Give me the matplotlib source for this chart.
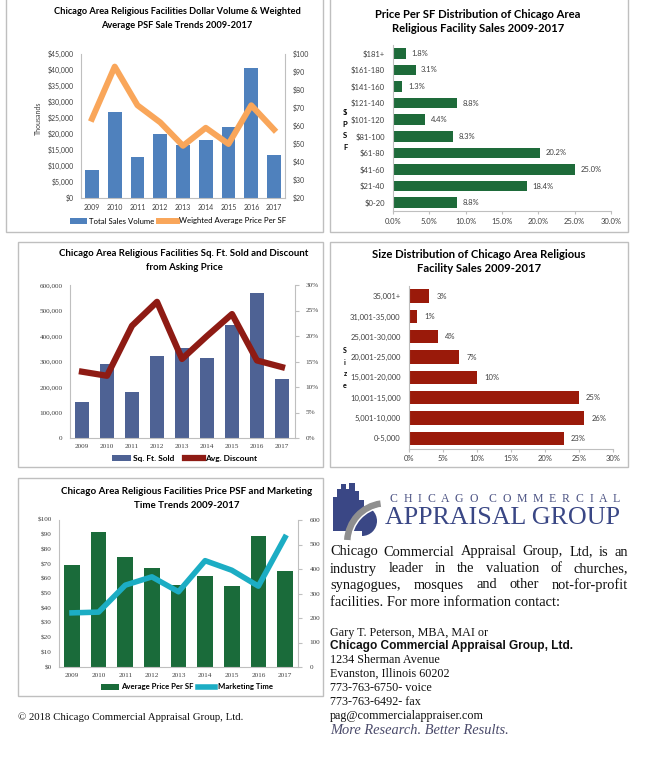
import matplotlib
matplotlib.use('Agg')
import matplotlib.pyplot as plt
from matplotlib.patches import Rectangle, Polygon, Wedge
from matplotlib.ticker import FuncFormatter
import numpy as np

plt.rcParams['text.parse_math'] = False
SANS = 'Lato'
SERIF = 'Liberation Serif'

# ---------------- data ----------------
years = ['2009', '2010', '2011', '2012', '2013', '2014', '2015', '2016', '2017']
sales_volume_k = [8750, 26800, 12900, 19900, 16500, 18200, 22100, 40600, 13500]
weighted_psf = [64, 93, 71.5, 62, 49, 59, 50, 71.5, 58]

psf_bins = ['$0-20', '$21-40', '$41-60', '$61-80', '$81-100', '$101-120',
            '$121-140', '$141-160', '$161-180', '$181+']
psf_share = [8.8, 18.4, 25.0, 20.2, 8.3, 4.4, 8.8, 1.3, 3.1, 1.8]

sqft_sold = [139500, 289000, 181000, 321000, 352000, 313000, 443000, 567000, 232000]
avg_discount = [13.0, 12.2, 22.0, 26.7, 15.5, 20.0, 24.3, 15.2, 13.9]

size_bins = ['0-5,000', '5,001-10,000', '10,001-15,000', '15,001-20,000',
             '20,001-25,000', '25,001-30,000', '31,001-35,000', '35,001+']
size_share = [22.8, 25.8, 25.0, 10.0, 7.4, 4.3, 1.2, 3.0]

avg_price_psf = [69.5, 91.6, 74.8, 67.3, 55.5, 61.8, 55.0, 89.0, 65.2]
marketing_days = [221, 224, 334, 368, 307, 434, 395, 330, 529]

# ---------------- figure ----------------
W, H = 646, 767
fig = plt.figure(figsize=(W / 100, H / 100), dpi=100)
fig.patch.set_facecolor('white')
R = fig.canvas.get_renderer()

ov = fig.add_axes([0, 0, 1, 1], zorder=0)
ov.set_xlim(0, W)
ov.set_ylim(H, 0)
ov.axis('off')

BORDER = '#BFBFBF'
TICKC = '#404040'


def axes_px(x0, y0, x1, y1):
    a = fig.add_axes([x0 / W, 1 - y1 / H, (x1 - x0) / W, (y1 - y0) / H], zorder=2)
    a.set_facecolor('none')
    return a


def width(t):
    return t.get_window_extent(R).width


def fit(t, target):
    t.set_fontsize(t.get_fontsize() * target / width(t))
    return t


def title2(cx, y1, y2, l1, l2, w1):
    t1 = ov.text(cx, y1, l1, ha='center', va='center', fontweight='bold', family=SANS, fontsize=8)
    fit(t1, w1)
    ov.text(cx, y2, l2, ha='center', va='center', fontweight='bold', family=SANS,
            fontsize=t1.get_fontsize())


for (x0, y0, x1, y1) in [(6, -3, 323, 232), (330, -3, 628, 232), (18, 242, 323, 467),
                         (330, 242, 628, 467), (18, 478, 323, 696)]:
    ov.add_patch(Rectangle((x0, y0), x1 - x0, y1 - y0, fill=False, ec=BORDER, lw=1))


def style_combo(ax, axr, fam, size, xpad):
    for s in ['top', 'right']:
        ax.spines[s].set_visible(False)
    for s in ['left', 'bottom']:
        ax.spines[s].set_color(BORDER)
    for s in ['top', 'left', 'bottom']:
        axr.spines[s].set_visible(False)
    axr.spines['right'].set_color(BORDER)
    ax.tick_params(axis='both', length=0, labelsize=size, labelcolor=TICKC)
    ax.tick_params(axis='x', pad=xpad)
    ax.tick_params(axis='y', pad=5)
    axr.tick_params(axis='y', length=0, labelsize=size, labelcolor=TICKC, pad=5)
    for lab in ax.get_xticklabels() + ax.get_yticklabels() + axr.get_yticklabels():
        lab.set_family(fam)


x = np.arange(len(years))

# ---------------- Panel 1 ----------------
title2(177, 12, 26, 'Chicago Area Religious Facilities Dollar Volume & Weighted',
       'Average PSF Sale Trends 2009-2017', 249)
a1 = axes_px(80.6, 54, 285.4, 198)
b1 = a1.bar(x, sales_volume_k, width=0.6, color='#4F81BD', label='Total Sales Volume')
a1.set_xlim(-0.5, 8.5)
a1.set_ylim(0, 45000)
a1.set_yticks(np.arange(0, 45001, 5000))
a1.yaxis.set_major_formatter(FuncFormatter(lambda v, p: f'${v:,.0f}'))
a1.set_xticks(x)
a1.set_xticklabels(years)
a1.set_ylabel('Thousands', family=SANS, fontsize=5, color=TICKC)
a1.yaxis.set_label_coords(-0.19, 0.55)
a1r = a1.twinx()
l1, = a1r.plot(x, weighted_psf, color='#F9A65A', lw=4.3, solid_joinstyle='round',
               label='Weighted Average Price Per SF')
a1r.set_ylim(20, 100)
a1r.set_yticks(np.arange(20, 101, 10))
a1r.yaxis.set_major_formatter(FuncFormatter(lambda v, p: f'${v:.0f}'))
style_combo(a1, a1r, SANS, 5, 4)
fig.legend(handles=[b1, l1], loc='center', bbox_to_anchor=(178 / W, 1 - 221 / H), ncol=2,
           frameon=False, prop={'family': SANS, 'size': 5.6}, handlelength=2.2,
           handletextpad=0.3, columnspacing=0.6, borderpad=0)

# ---------------- Panel 2 ----------------
title2(478, 15, 29, 'Price Per SF Distribution of Chicago Area',
       'Religious Facility Sales 2009-2017', 207)
a2 = axes_px(393, 45, 611, 211)
yy = np.arange(len(psf_bins))
b2 = a2.barh(yy, psf_share, height=0.64, color='#1E6B3A')
a2.set_xlim(0, 30)
a2.set_ylim(-0.5, len(psf_bins) - 0.5)
a2.set_xticks(np.arange(0, 31, 5))
a2.xaxis.set_major_formatter(FuncFormatter(lambda v, p: f'{v:.1f}%'))
a2.set_yticks(yy)
a2.set_yticklabels(psf_bins)
a2.bar_label(b2, labels=[f'{v:.1f}%' for v in psf_share], padding=4, fontsize=5.5,
             family=SANS, color=TICKC)
for s in ['top', 'right']:
    a2.spines[s].set_visible(False)
for s in ['left', 'bottom']:
    a2.spines[s].set_color(BORDER)
a2.tick_params(axis='y', length=0, labelsize=5.5, labelcolor=TICKC, pad=6)
a2.tick_params(axis='x', length=2, color=BORDER, labelsize=5.5, labelcolor=TICKC, pad=3)
for lab in a2.get_xticklabels() + a2.get_yticklabels():
    lab.set_family(SANS)
ov.text(345, 130, '$\nP\nS\nF', ha='center', va='center', family=SANS, fontweight='bold',
        fontsize=5.5, linespacing=1.75)

# ---------------- Panel 3 ----------------
title2(184, 254, 268, 'Chicago Area Religious Facilities Sq. Ft. Sold and Discount',
       'from Asking Price', 250)
a3 = axes_px(69.5, 285, 294.5, 438)
b3 = a3.bar(x, sqft_sold, width=0.57, color='#4E6294', label='Sq. Ft. Sold')
a3.set_xlim(-0.5, 8.5)
a3.set_ylim(0, 600000)
a3.set_yticks(np.arange(0, 600001, 100000))
a3.yaxis.set_major_formatter(FuncFormatter(lambda v, p: f'{v:,.0f}'))
a3.set_xticks(x)
a3.set_xticklabels(years)
a3r = a3.twinx()
l3, = a3r.plot(x, avg_discount, color='#8E1B14', lw=4.5, solid_joinstyle='round',
               label='Avg. Discount')
a3r.set_ylim(0, 30)
a3r.set_yticks(np.arange(0, 31, 5))
a3r.yaxis.set_major_formatter(FuncFormatter(lambda v, p: f'{v:.0f}%'))
style_combo(a3, a3r, SERIF, 5.2, 4)
a3r.tick_params(axis='y', length=3, color=BORDER)
fig.legend(handles=[b3, l3], loc='center', bbox_to_anchor=(185 / W, 1 - 458 / H), ncol=2,
           frameon=False, prop={'family': SANS, 'size': 6, 'weight': 'bold'},
           handlelength=2.2, handletextpad=0.3, columnspacing=1.2, borderpad=0)

# ---------------- Panel 4 ----------------
title2(479, 254, 268, 'Size Distribution of Chicago Area Religious',
       'Facility Sales 2009-2017', 216)
a4 = axes_px(409, 286, 613, 448.5)
ys = np.arange(len(size_bins))
b4 = a4.barh(ys, size_share, height=0.66, color='#9A1A0A')
a4.set_xlim(0, 30)
a4.set_ylim(-0.5, len(size_bins) - 0.5)
a4.set_xticks(np.arange(0, 31, 5))
a4.xaxis.set_major_formatter(FuncFormatter(lambda v, p: f'{v:.0f}%'))
a4.set_yticks(ys)
a4.set_yticklabels(size_bins)
a4.bar_label(b4, labels=[f'{v:.0f}%' for v in size_share], padding=5, fontsize=5.5,
             family=SANS, color=TICKC)
for s in ['top', 'right']:
    a4.spines[s].set_visible(False)
for s in ['left', 'bottom']:
    a4.spines[s].set_color(BORDER)
a4.tick_params(axis='y', length=0, labelsize=5.5, labelcolor=TICKC, pad=6)
a4.tick_params(axis='x', length=2, color=BORDER, labelsize=5.5, labelcolor=TICKC, pad=3)
for lab in a4.get_xticklabels() + a4.get_yticklabels():
    lab.set_family(SANS)
ov.text(345, 368, 'S\ni\nz\ne', ha='center', va='center', family=SANS, fontweight='bold',
        fontsize=5, linespacing=1.75)

# ---------------- Panel 5 ----------------
title2(187, 491, 505, 'Chicago Area Religious Facilities Price PSF and Marketing',
       'Time Trends 2009-2017', 252)
a5 = axes_px(58.7, 520, 298.3, 667)
b5 = a5.bar(x, avg_price_psf, width=0.59, color='#1A6B3A', label='Average Price Per SF')
a5.set_xlim(-0.5, 8.5)
a5.set_ylim(0, 100)
a5.set_yticks(np.arange(0, 101, 10))
a5.yaxis.set_major_formatter(FuncFormatter(lambda v, p: f'${v:.0f}'))
a5.set_xticks(x)
a5.set_xticklabels(years)
a5r = a5.twinx()
l5, = a5r.plot(x, marketing_days, color='#1CADC4', lw=4, solid_joinstyle='round',
               label='Marketing Time')
a5r.set_ylim(0, 600)
a5r.set_yticks(np.arange(0, 601, 100))
style_combo(a5, a5r, SERIF, 5.2, 4)
a5r.tick_params(axis='y', length=3, color=BORDER)
fig.legend(handles=[b5, l5], loc='center', bbox_to_anchor=(187 / W, 1 - 687 / H), ncol=2,
           frameon=False, prop={'family': SANS, 'size': 5.6, 'weight': 'bold'},
           handlelength=2.2, handletextpad=0.3, columnspacing=0.6, borderpad=0)

t = ov.text(18, 717, '\u00a9 2018 Chicago Commercial Appraisal Group, Ltd.', ha='left',
            va='center', family=SERIF, fontsize=9, color='#111111')
fit(t, 225)

# ---------------- Logo ----------------
NAVY = '#3A4785'
sky = [(333, 531), (333, 497), (337, 497), (337, 489), (341, 489), (341, 484), (346, 484),
       (346, 489), (349, 489), (349, 483), (355, 483), (355, 491), (359, 491), (359, 500),
       (364, 500), (364, 531)]
ov.add_patch(Polygon(sky, closed=True, color=NAVY, lw=0))
ov.add_patch(Wedge((362, 521), 15, -90, 90, color=NAVY, lw=0))
ov.add_patch(Wedge((386, 542), 42, 183, 262, width=7, color='#8F8F8F', lw=0))
ov.add_patch(Wedge((386, 542), 35.5, 183, 262, width=1.5, color='white', lw=0))


def spread(text, x0, x1, y, **kw):
    toks = []
    for wi, word in enumerate(text.split(' ')):
        if wi:
            toks.append('')
        toks.extend(list(word))
    ts = [ov.text(0, y, c, ha='left', va='center', **kw) for c in toks]
    ws = [width(tt) if c else 0 for tt, c in zip(ts, toks)]
    gap = (x1 - x0 - sum(ws)) / (len(toks) - 1)
    xx = x0
    for tt, w in zip(ts, ws):
        tt.set_x(xx)
        xx += w + gap


spread('CHICAGO COMMERCIAL', 390, 620, 499, family=SERIF, fontsize=8.5, color='#4B5283')
t = ov.text(385, 518, 'APPRAISAL GROUP', ha='left', va='center', family=SERIF,
            fontsize=18, color=NAVY)
fit(t, 235)

# ---------------- Paragraph ----------------
para = ['Chicago Commercial Appraisal Group, Ltd, is an',
        'industry leader in the valuation of churches,',
        'synagogues, mosques and other not-for-profit',
        'facilities. For more information contact:']
last = ov.text(330, 602, para[3], ha='left', va='center', family=SERIF, fontsize=10,
               color='#111111')
fit(last, 230)
pfs = last.get_fontsize()


def justify(line, x0, x1, y, **kw):
    words = line.split(' ')
    ts = [ov.text(0, y, w_, ha='left', va='center', **kw) for w_ in words]
    ws = [width(tt) for tt in ts]
    gap = (x1 - x0 - sum(ws)) / (len(words) - 1)
    xx = x0
    for tt, w in zip(ts, ws):
        tt.set_x(xx)
        xx += w + gap


for line, yv in zip(para[:3], [552, 569, 585]):
    justify(line, 330, 628, yv, family=SERIF, fontsize=pfs, color='#111111')

g = ov.text(330, 633, 'Gary T. Peterson, MBA, MAI or', ha='left', va='center',
            family=SERIF, fontsize=9, color='#111111')
fit(g, 157)
cfs = g.get_fontsize()
bt = ov.text(330, 646, 'Chicago Commercial Appraisal Group, Ltd.', ha='left', va='center',
             family='Liberation Sans', fontweight='bold', fontsize=8, color='#111111')
fit(bt, 243)
for line, yv in [('1234 Sherman Avenue', 660), ('Evanston, Illinois 60202', 674),
                 ('773-763-6750- voice', 688), ('773-763-6492- fax', 702),
                 ('pag@commercialappraiser.com', 716)]:
    ov.text(330, yv, line, ha='left', va='center', family=SERIF, fontsize=cfs, color='#111111')
it = ov.text(330, 731, 'More Research. Better Results.', ha='left', va='center',
             family=SERIF, style='italic', fontsize=9, color='#4A4A6A')
fit(it, 178)

fig.savefig('out.png', dpi=100, facecolor='white')
